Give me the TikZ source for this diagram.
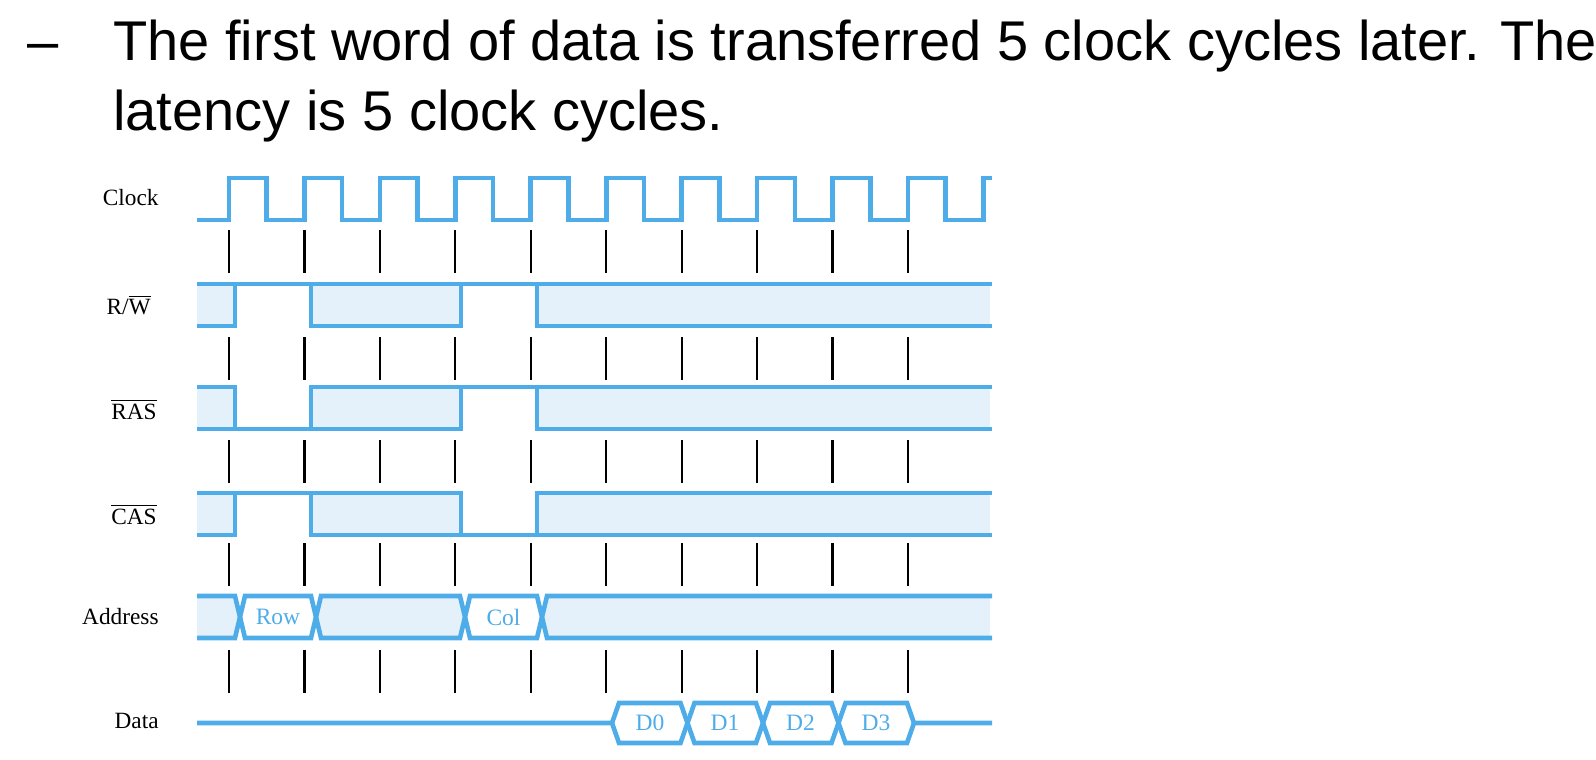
\documentclass[tikz,border=0pt]{standalone}
\usepackage{fontspec}
\setmainfont{Liberation Serif}
\newfontfamily\arialfont{Liberation Sans}
\definecolor{sig}{RGB}{78,172,232}
\definecolor{sigfill}{RGB}{228,241,250}
\begin{document}
\begin{tikzpicture}[x=0.5pt,y=-0.5pt,
  sigline/.style={draw=sig,line width=2.3pt,line join=miter},
  tickline/.style={draw=black,line width=1.1pt},
  hdr/.style={font=\arialfont\fontsize{28}{34}\selectfont,inner sep=0pt,anchor=base west},
  lbl/.style={font=\fontsize{11.65}{14}\selectfont,inner sep=0pt,anchor=base east},
  buslbl/.style={font=\fontsize{11.75}{14}\selectfont,text=sig,inner sep=0pt,anchor=center}]
\useasboundingbox (0,0) rectangle (1596,760);

% header text
\node[hdr] (dash) at (27,61) {–};
\node[hdr] (line1) at (113,61) {The first word of data is transferred 5 clock cycles later. The};
\node[hdr] (line2) at (113,130) {latency is 5 clock cycles.};

% signal labels
\node[lbl] (lclk) at (159,205) {Clock};
\node[lbl] (lrw) at (151,314) {R/$\overline{\hbox{W}}$};
\node[lbl] (lras) at (157,419) {$\overline{\hbox{RAS}}$};
\node[lbl] (lcas) at (157,524) {$\overline{\hbox{CAS}}$};
\node[lbl] (ladr) at (159,624) {Address};
\node[lbl] (ldat) at (159,728) {Data};

% clock
\draw[sigline] (197,220) foreach \k in {0,...,9} {
   -- ({229+75.44*\k},220) -- ({229+75.44*\k},178)
   -- ({266.72+75.44*\k},178) -- ({266.72+75.44*\k},220) }
   -- (983.4,220) -- (983.4,178) -- (992,178);

% tick marks
\foreach \k in {0,...,9}
  \foreach \y in {230,337,440,543,650}
    \draw[tickline] ({229+75.44*\k},\y) -- ++(0,43);

% R/W
\fill[sigfill] (197,284) rectangle (235,326);
\fill[sigfill] (311,284) rectangle (461,326);
\fill[sigfill] (537,284) rectangle (990,326);
\draw[sigline] (197,284) -- (992,284);
\draw[sigline] (197,326) -- (235,326) -- (235,284);
\draw[sigline] (311,284) -- (311,326) -- (461,326) -- (461,284);
\draw[sigline] (537,284) -- (537,326) -- (992,326);

% RAS
\fill[sigfill] (197,387) rectangle (235,429);
\fill[sigfill] (311,387) rectangle (461,429);
\fill[sigfill] (537,387) rectangle (990,429);
\draw[sigline] (197,387) -- (235,387) -- (235,429);
\draw[sigline] (197,429) -- (461,429) -- (461,387);
\draw[sigline] (311,429) -- (311,387) -- (992,387);
\draw[sigline] (537,387) -- (537,429) -- (992,429);

% CAS
\fill[sigfill] (197,493) rectangle (235,535);
\fill[sigfill] (311,493) rectangle (461,535);
\fill[sigfill] (537,493) rectangle (990,535);
\draw[sigline] (197,493) -- (461,493) -- (461,535);
\draw[sigline] (197,535) -- (235,535) -- (235,493);
\draw[sigline] (311,493) -- (311,535) -- (992,535);
\draw[sigline] (537,535) -- (537,493) -- (992,493);

% Address
\fill[sigfill] (197,596) -- (235,596) -- (240,617) -- (235,638) -- (197,638) -- cycle;
\fill[sigfill] (321,596) -- (460,596) -- (465,617) -- (460,638) -- (321,638) -- (316,617) -- cycle;
\fill[sigfill] (547,596) -- (990,596) -- (990,638) -- (547,638) -- (542,617) -- cycle;
\draw[sigline] (197,596) -- (235,596) -- (245,638) -- (311,638) -- (321,596) -- (460,596)
   -- (470,638) -- (537,638) -- (547,596) -- (992,596);
\draw[sigline] (197,638) -- (235,638) -- (245,596) -- (311,596) -- (321,638) -- (460,638)
   -- (470,596) -- (537,596) -- (547,638) -- (992,638);
\node[buslbl] (row) at (278,617) {Row};
\node[buslbl] (col) at (503.5,617) {Col};

% Data
\draw[sigline] (197,723) -- (612,723) -- (619,703) -- (680.5,703) -- (694.5,743) -- (756,743)
   -- (770,703) -- (831.5,703) -- (845.5,743) -- (907,743) -- (914,723) -- (992,723);
\draw[sigline] (612,723) -- (619,743) -- (680.5,743) -- (694.5,703) -- (756,703)
   -- (770,743) -- (831.5,743) -- (845.5,703) -- (907,703) -- (914,723);
\node[buslbl] (d0) at (650,723) {D0};
\node[buslbl] (d1) at (725,723) {D1};
\node[buslbl] (d2) at (800.5,723) {D2};
\node[buslbl] (d3) at (876,723) {D3};
\end{tikzpicture}
\end{document}
